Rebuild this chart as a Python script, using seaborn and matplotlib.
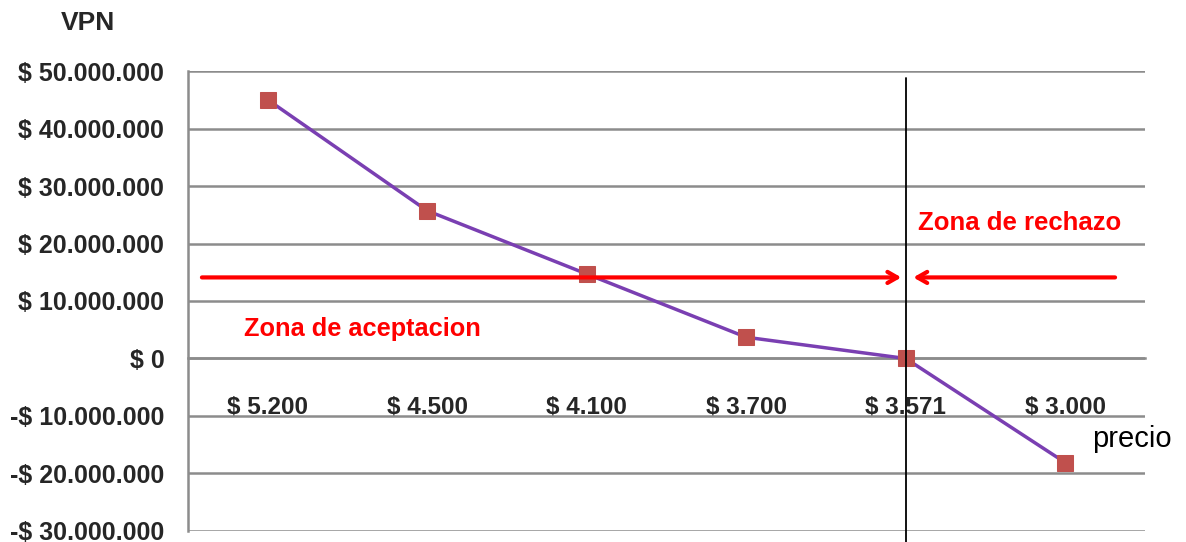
import matplotlib
matplotlib.use("Agg")
import matplotlib.pyplot as plt
import seaborn as sns
import pandas as pd
import numpy as np

precios = ["$ 5.200", "$ 4.500", "$ 4.100", "$ 3.700", "$ 3.571", "$ 3.000"]
vpn = [45.0e6, 25.7e6, 14.7e6, 3.7e6, 0.0, -18.1e6]
yticks = [-30e6, -20e6, -10e6, 0, 10e6, 20e6, 30e6, 40e6, 50e6]
ytick_labels = ["-$ 30.000.000", "-$ 20.000.000", "-$ 10.000.000", "$ 0",
                "$ 10.000.000", "$ 20.000.000", "$ 30.000.000",
                "$ 40.000.000", "$ 50.000.000"]
umbral_y = 14.1e6

sns.set_style("white")
plt.rcParams["font.family"] = ["Liberation Sans", "DejaVu Sans"]

df = pd.DataFrame({"idx": np.arange(len(precios)), "precio": precios, "vpn": vpn})

fig = plt.figure(figsize=(11.86, 5.42), dpi=100)
ax = fig.add_axes([0.1585, 0.0203, 0.9654 - 0.1585, 0.869 - 0.0203])

grid_c = "#8c8c8c"
for v in yticks:
    ax.axhline(v, color=grid_c, lw=1.8, zorder=1)

sns.lineplot(data=df, x="idx", y="vpn", ax=ax, color="#7A3FB2", lw=2.5,
             marker="s", markersize=12, markerfacecolor="#C0504D",
             markeredgecolor="#C0504D", zorder=3)

ax.set_xlim(-0.5, len(precios) - 0.5)
ax.set_ylim(yticks[0], yticks[-1])
ax.set_xlabel("")
ax.set_ylabel("")

for s in ["top", "right"]:
    ax.spines[s].set_visible(False)
ax.spines["left"].set_color(grid_c)
ax.spines["left"].set_linewidth(1.8)
ax.spines["bottom"].set_position(("data", 0))
ax.spines["bottom"].set_color(grid_c)
ax.spines["bottom"].set_linewidth(1.8)

ax.set_yticks(yticks)
ax.set_yticklabels(ytick_labels, fontsize=18, fontweight="bold")
ax.tick_params(axis="y", length=8, width=1.5, color=grid_c, direction="out", pad=9)

ax.set_xticks(np.arange(-0.5, len(precios), 1.0))
ax.set_xticklabels([])
ax.set_xticks(np.arange(len(precios)), minor=True)
ax.set_xticklabels(precios, minor=True, fontsize=17.5, fontweight="bold")
ax.tick_params(axis="x", which="major", length=8, width=1.5, color=grid_c, direction="out")
ax.tick_params(axis="x", which="minor", length=0, pad=27)

# threshold marker
x_thr = precios.index("$ 3.571")
ax.plot([x_thr, x_thr], [yticks[-1] - 1.2e6, yticks[0] - 2e6], color="black", lw=1.3,
        clip_on=False, zorder=4)

ax.annotate("", xy=(x_thr - 0.01, umbral_y), xytext=(-0.43, umbral_y),
            arrowprops=dict(arrowstyle="->,head_length=0.7,head_width=0.4",
                            color="#FF0000", lw=3), zorder=5)
ax.annotate("", xy=(x_thr + 0.03, umbral_y), xytext=(5.33, umbral_y),
            arrowprops=dict(arrowstyle="->,head_length=0.7,head_width=0.4",
                            color="#FF0000", lw=3), zorder=5)

ax.text(-0.15, 5.2e6, "Zona de aceptacion", color="#FF0000", fontsize=18.3,
        fontweight="bold", ha="left", va="center")
ax.text(4.08, 23.5e6, "Zona de rechazo", color="#FF0000", fontsize=18.5,
        fontweight="bold", ha="left", va="center")
ax.text(5.17, -14e6, "precio", color="black", fontsize=21, ha="left", va="center")
fig.text(88 / 1186, 1 - 23 / 542, "VPN", fontsize=19, fontweight="bold",
         ha="center", va="center")

fig.savefig("out.png", dpi=100)
